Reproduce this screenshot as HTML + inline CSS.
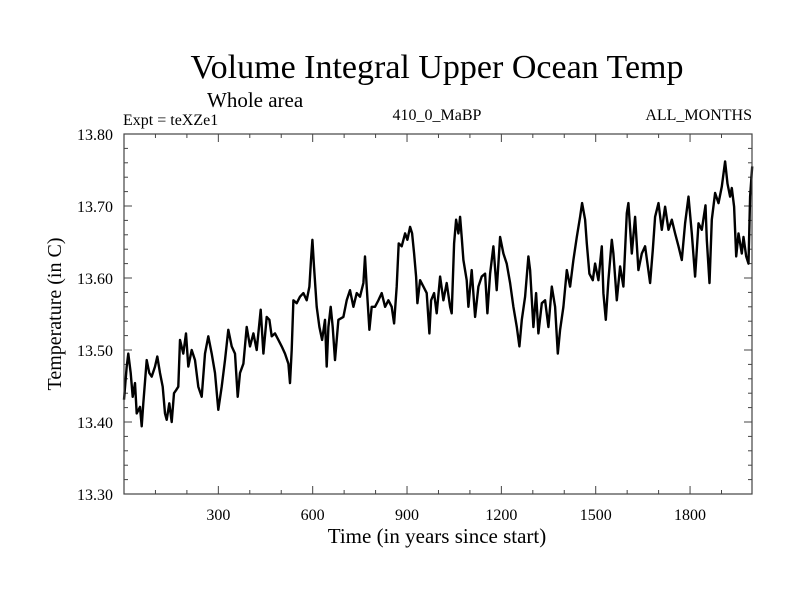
<!DOCTYPE html>
<html><head><meta charset="utf-8"><style>
body{margin:0;background:#fff}
svg{display:block;font-family:"Liberation Serif",serif}
</style></head><body>
<svg id="chart" width="800" height="600" viewBox="0 0 800 600">
<rect width="800" height="600" fill="#fff"/>
<text x="437" y="78" font-size="34" text-anchor="middle">Volume Integral Upper Ocean Temp</text>
<text x="207" y="107" font-size="21">Whole area</text>
<text x="123" y="125" font-size="16">Expt = teXZe1</text>
<text x="437" y="120" font-size="16" text-anchor="middle">410_0_MaBP</text>
<text x="752" y="120" font-size="16" text-anchor="end">ALL_MONTHS</text>
<text x="437" y="543" font-size="21" text-anchor="middle">Time (in years since start)</text>
<text transform="translate(61,314) rotate(-90)" font-size="20" text-anchor="middle">Temperature (in C)</text>
<g id="axes"></g>
<path id="series" fill="none" stroke="#000" stroke-width="2.4" stroke-linejoin="round"/>
<rect x="124" y="134" width="628" height="360" fill="none" stroke="#444" stroke-width="1.2"/>
</svg>
<script>
const years=[0,8.5,13.8,21.2,27.6,35.0,40.3,50.9,56.2,61.5,72.1,80.6,88.0,98.6,106.0,114.5,123.0,130.4,135.7,144.2,151.6,159.0,165.4,172.8,178.1,188.7,197.2,204.6,215.2,225.8,236.4,247.0,257.6,268.2,278.8,289.4,300.0,310.6,321.2,331.8,342.5,353.1,361.5,369.0,379.6,390.2,400.8,411.4,422.0,434.7,443.2,453.8,462.3,469.7,480.3,490.9,501.5,512.1,522.7,528.0,533.3,538.6,549.2,559.8,570.4,581.0,589.5,594.8,599.0,604.3,612.8,621.3,629.8,639.3,644.6,649.9,657.3,663.7,671.1,681.7,697.6,708.2,718.8,729.4,740.0,750.6,761.2,766.5,771.8,780.3,787.7,798.3,808.9,819.6,830.2,840.8,851.4,858.8,867.3,873.6,883.2,893.8,901.2,909.7,916.0,922.4,928.8,933.0,941.5,952.1,962.7,971.2,976.5,986.0,994.5,1005.1,1015.7,1026.3,1036.9,1042.2,1049.6,1056.0,1063.4,1068.7,1074.0,1079.3,1089.9,1095.2,1105.8,1116.4,1127.0,1137.6,1148.2,1155.7,1164.1,1174.7,1185.3,1195.9,1206.5,1217.1,1227.7,1238.4,1249.0,1257.4,1264.9,1275.5,1286.1,1291.4,1302.0,1310.5,1317.9,1328.5,1339.1,1349.7,1360.3,1370.9,1379.4,1386.8,1397.4,1408.0,1418.6,1429.2,1439.8,1450.4,1456.8,1466.3,1471.6,1480.1,1490.7,1498.1,1508.7,1519.3,1524.6,1532.0,1540.5,1551.1,1556.4,1567.0,1577.6,1588.2,1598.8,1604.1,1614.7,1625.3,1635.9,1646.5,1657.1,1673.0,1681.5,1689.0,1699.6,1710.2,1720.8,1731.4,1742.0,1752.6,1763.2,1773.8,1784.4,1795.0,1805.6,1816.2,1826.8,1837.4,1849.0,1853.3,1861.7,1869.2,1879.8,1890.4,1901.0,1911.6,1919.0,1927.5,1932.8,1940.2,1946.6,1954.0,1964.6,1969.9,1978.4,1985.8,1991.1,1997.5];
const temps=[13.431,13.477,13.495,13.468,13.435,13.454,13.412,13.421,13.394,13.426,13.486,13.468,13.463,13.477,13.491,13.468,13.449,13.412,13.403,13.426,13.400,13.440,13.444,13.449,13.514,13.495,13.523,13.477,13.500,13.486,13.449,13.435,13.495,13.519,13.495,13.468,13.417,13.449,13.486,13.528,13.505,13.495,13.435,13.468,13.481,13.532,13.505,13.523,13.500,13.556,13.495,13.546,13.542,13.519,13.523,13.514,13.505,13.495,13.481,13.454,13.500,13.569,13.565,13.574,13.579,13.569,13.588,13.625,13.653,13.616,13.560,13.532,13.514,13.542,13.477,13.532,13.560,13.532,13.486,13.542,13.546,13.569,13.583,13.560,13.579,13.574,13.593,13.630,13.588,13.528,13.560,13.560,13.569,13.579,13.560,13.569,13.560,13.537,13.588,13.648,13.644,13.662,13.653,13.671,13.662,13.634,13.602,13.565,13.597,13.588,13.579,13.523,13.569,13.579,13.551,13.602,13.569,13.593,13.560,13.551,13.648,13.681,13.662,13.685,13.657,13.625,13.597,13.560,13.611,13.546,13.588,13.602,13.606,13.551,13.606,13.644,13.583,13.657,13.634,13.620,13.593,13.560,13.532,13.505,13.542,13.574,13.630,13.611,13.532,13.579,13.523,13.565,13.569,13.532,13.588,13.560,13.495,13.528,13.560,13.611,13.588,13.625,13.657,13.685,13.704,13.681,13.648,13.606,13.597,13.620,13.597,13.644,13.579,13.542,13.597,13.653,13.634,13.569,13.616,13.588,13.690,13.704,13.634,13.685,13.611,13.634,13.644,13.593,13.639,13.685,13.704,13.667,13.699,13.667,13.681,13.662,13.644,13.625,13.676,13.713,13.662,13.602,13.676,13.667,13.701,13.653,13.593,13.681,13.718,13.704,13.727,13.762,13.731,13.713,13.725,13.699,13.630,13.662,13.634,13.657,13.630,13.620,13.713,13.755];
const xTickValues=[300,600,900,1200,1500,1800];
const yTickValues=[13.30,13.40,13.50,13.60,13.70,13.80];

const L=124,R=752,T=134,B=494,XMIN=0,XMAX=1997,YMIN=13.30,YMAX=13.80;
function xs(v){return L+(v-XMIN)/(XMAX-XMIN)*(R-L);}
function ys(v){return B-(v-YMIN)/(YMAX-YMIN)*(B-T);}
const NS="http://www.w3.org/2000/svg";
const g=document.getElementById('axes');
function line(x1,y1,x2,y2,name){
  const l=document.createElementNS(NS,'line');
  l.setAttribute('x1',x1);l.setAttribute('y1',y1);l.setAttribute('x2',x2);l.setAttribute('y2',y2);
  l.setAttribute('stroke','#444');l.setAttribute('stroke-width','1');
  
  
  g.appendChild(l);
}
function text(x,y,s,anchor,name){
  const t=document.createElementNS(NS,'text');
  t.setAttribute('x',x);t.setAttribute('y',y);t.setAttribute('font-size','16');t.setAttribute('text-anchor',anchor);
  t.textContent=s;
  
  
  g.appendChild(t);
}
for(let v=100;v<XMAX;v+=100){
  const x=xs(v),major=v%300===0,len=major?8:4;
  line(x,B,x,B-len,'x-tick');
  line(x,T,x,T+len,'x-tick-top');
}
xTickValues.forEach(v=>text(xs(v),520,String(v),'middle','x-tick-label'));
for(let i=0;i<=25;i++){
  const v=YMIN+i*0.02,y=ys(v),major=i%5===0,len=major?8:4;
  line(L,y,L+len,y,'y-tick');
  line(R,y,R-len,y,'y-tick-right');
}
yTickValues.forEach(v=>text(113,ys(v)+6,v.toFixed(2),'end','y-tick-label'));
let d='';
years.forEach((yr,i)=>{d+=(i?'L':'M')+xs(yr).toFixed(1)+','+ys(temps[i]).toFixed(1);});
document.getElementById('series').setAttribute('d',d);
</script>
</body></html>
